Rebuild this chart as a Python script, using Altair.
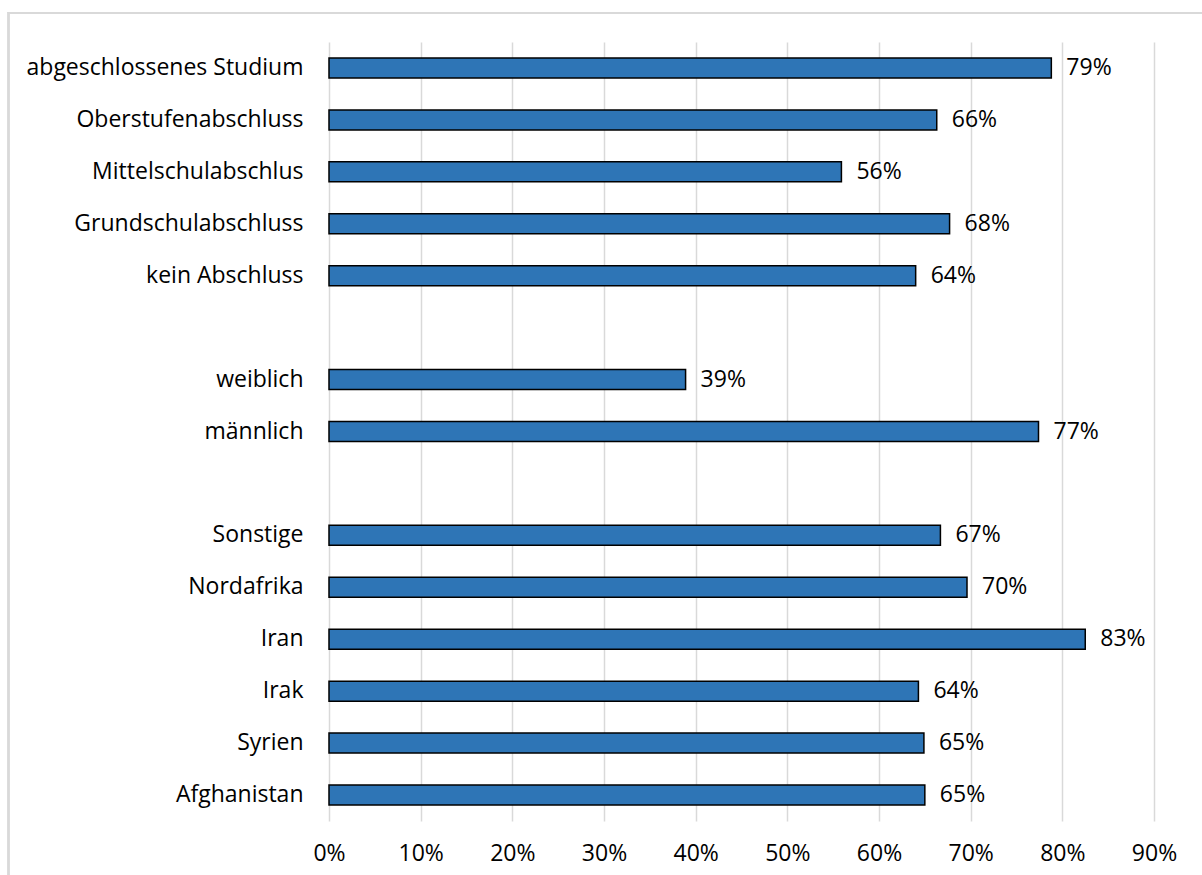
import altair as alt
import pandas as pd

# row order top to bottom; blank entries are spacer rows
row_order = [
    "abgeschlossenes Studium", "Oberstufenabschluss", "Mittelschulabschlus",
    "Grundschulabschluss", "kein Abschluss", " ",
    "weiblich", "männlich\u00a0", "  ",
    "Sonstige", "Nordafrika", "Iran", "Irak", "Syrien", "Afghanistan",
]
categories = [
    "abgeschlossenes Studium", "Oberstufenabschluss", "Mittelschulabschlus",
    "Grundschulabschluss", "kein Abschluss",
    "weiblich", "männlich\u00a0",
    "Sonstige", "Nordafrika", "Iran", "Irak", "Syrien", "Afghanistan",
]
values = [0.788, 0.663, 0.559, 0.677, 0.640,
          0.389, 0.774,
          0.667, 0.696, 0.825, 0.643, 0.649, 0.650]
x_ticks = [0, 0.1, 0.2, 0.3, 0.4, 0.5, 0.6, 0.7, 0.8, 0.9]

df = pd.DataFrame({"cat": categories, "val": values})

FONT = "Open Sans"
FS = 23

y_enc = alt.Y("cat:N", sort=row_order,
              scale=alt.Scale(domain=row_order, paddingInner=0, paddingOuter=0),
              axis=alt.Axis(title=None, ticks=False, domain=False, grid=False,
                            labelPadding=26, labelFontSize=FS, labelFont=FONT,
                            labelColor="#000000", labelLimit=400))
x_enc = alt.X("val:Q",
              scale=alt.Scale(domain=[0, 0.9], nice=False, zero=True),
              axis=alt.Axis(title=None, values=x_ticks, format=".0%", ticks=False,
                            domain=False, grid=True, gridColor="#D9D9D9",
                            gridWidth=1.5, labelPadding=21, labelFontSize=FS,
                            labelFont=FONT, labelColor="#000000",
                            labelFlush=False, labelOverlap=False))

bars = alt.Chart(df).mark_bar(size=20, color="#2E75B6", stroke="#000000",
                              strokeWidth=1.5).encode(x=x_enc, y=y_enc)

labels = alt.Chart(df).mark_text(align="left", baseline="middle", dx=15,
                                 font=FONT, fontSize=FS, color="#000000").encode(
    x="val:Q", y=alt.Y("cat:N", sort=row_order),
    text=alt.Text("val:Q", format=".0%"))

frame = alt.Chart(df).mark_rect(fill=None, stroke="#D9D9D9", strokeWidth=1.5).encode(
    x=alt.value(-320.5), x2=alt.value(900), y=alt.value(-29), y2=alt.value(850))

chart = alt.layer(frame, bars, labels).properties(
    width=825, height=779,
    autosize=alt.AutoSizeParams(type="none"),
    padding={"left": 329, "top": 42, "right": 48, "bottom": 54},
).configure(background="#FFFFFF", view=alt.ViewConfig(stroke=None))

chart.save("out.html", embed_options={"renderer": "svg", "actions": False})
